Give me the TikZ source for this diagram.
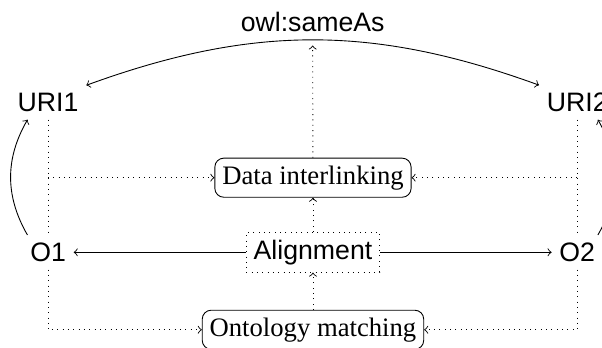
\documentclass[tikz,border=0pt]{standalone}
\usepackage{fontspec}
\setmainfont{Liberation Serif}
\setsansfont{Liberation Sans}
\begin{document}
\begin{tikzpicture}[>=to, line join=round,
		ent/.style={font=\fontsize{12}{14}\selectfont\sffamily},
		task/.style={draw, rounded corners, font=\fontsize{12}{14}\selectfont},
		link/.style={dotted, ->}]
	\def\xl{0.76} \def\xm{4.95} \def\xr{9.13}
	\useasboundingbox (0,0) rectangle (9.521,-5.488);
	%\draw[color=gray!50,dashed] (0,-5.5) grid (9.5,0);
	\node[ent] (URI1) at (\xl,-1.62) {URI1};
	\node[ent] (URI2) at (\xr,-1.62) {URI2};
	\node[ent] (O1) at (\xl,-3.99) {O1};
	\node[ent] (O2) at (\xr,-3.99) {O2};
	\node[task] (DI) at (\xm,-2.81) {Data interlinking};
	\node[ent, draw, dotted] (Align) at (\xm,-3.99) {Alignment};
	\node[task] (OM) at (\xm,-5.215) {Ontology matching};
	\draw[<->] (URI1.north east) to[bend left=20] node[above, ent] (same) {owl:sameAs} (URI2.north west);
	\draw[link, shorten >=2.5pt] (DI) -- (same.south);
	\draw[dotted] (URI1) -- (O1);
	\draw[dotted] (URI2) -- (O2);
	\draw[link] (URI1 |- DI) -- (DI);
	\draw[link] (URI2 |- DI) -- (DI);
	\draw[link] (O1) |- (OM);
	\draw[link] (O2) |- (OM);
	\draw[link] (Align) -- (DI);
	\draw[link] (OM) -- (Align);
	\draw[->] (Align) -- (O1);
	\draw[->] (Align) -- (O2);
	\draw[->] (O1.140) to[bend left=30] (URI1.220);
	\draw[->] (O2.40) to[bend right=30] (URI2.-40);
\end{tikzpicture}
\end{document}
